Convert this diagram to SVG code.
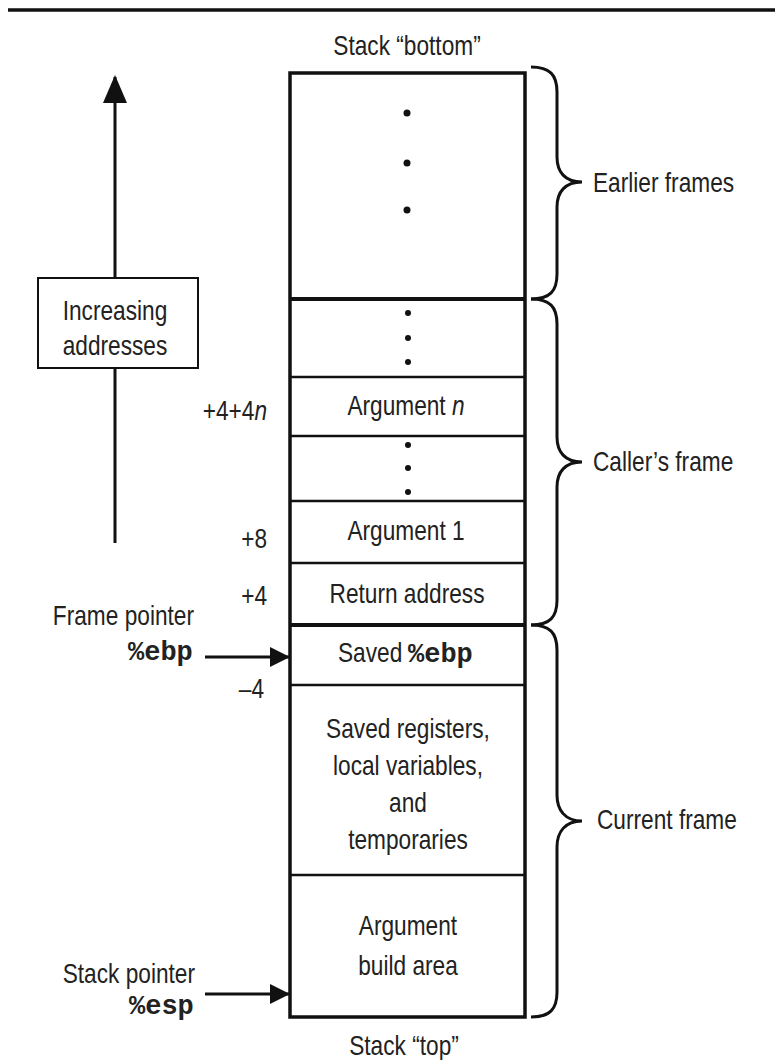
<svg xmlns="http://www.w3.org/2000/svg" width="775" height="1060" viewBox="0 0 775 1060">
<style>
  text { font-family: "Liberation Sans", Arial, sans-serif; font-size: 27px; fill: #222; transform-box: fill-box; }
  .c { text-anchor: middle; transform-origin: center; transform: scaleX(0.84); }
  .e { text-anchor: end; transform-origin: right; transform: scaleX(0.84); }
  .s { text-anchor: start; transform-origin: left; transform: scaleX(0.84); }
  text.m { font-family: "Liberation Mono", "Courier New", monospace; font-weight: bold; font-size: 27px; transform: none; }
  .frame { fill: #fff; stroke: #111; stroke-width: 3.5; }
  .div { stroke: #111; stroke-width: 2.5; }
  .thick { stroke: #111; stroke-width: 4; }
  .brace { fill: none; stroke: #111; stroke-width: 3; }
  .conn { stroke: #111; stroke-width: 3; fill: none; }
  .dot { fill: #111; }
</style>
<defs>
  <marker id="ah" viewBox="0 0 20 20" refX="20" refY="10" markerWidth="20" markerHeight="20" markerUnits="userSpaceOnUse" orient="auto">
    <polygon points="0,0 20,10 0,20" fill="#111"/>
  </marker>
  <marker id="ahUp" viewBox="0 0 28 24" refX="26" refY="12" markerWidth="28" markerHeight="24" markerUnits="userSpaceOnUse" orient="auto">
    <polygon points="0,0 28,12 0,24" fill="#111"/>
  </marker>
</defs>
<rect width="775" height="1060" fill="#fff"/>
<line x1="8" y1="10" x2="775" y2="10" stroke="#111" stroke-width="3.5"/>

<g id="connectors">
  <line class="conn" x1="115" y1="543" x2="115" y2="77" marker-end="url(#ahUp)"/>
  <line class="conn" x1="205" y1="657" x2="290" y2="657" marker-end="url(#ah)"/>
  <line class="conn" x1="205" y1="994" x2="290" y2="994" marker-end="url(#ah)"/>
</g>

<g id="increasing-addresses">
  <rect x="38" y="278" width="160" height="90" fill="#fff" stroke="#111" stroke-width="2"/>
  <text class="c" x="115" y="320">Increasing</text>
  <text class="c" x="115" y="355">addresses</text>
</g>

<g id="stack">
  <rect class="frame" x="290" y="73" width="235" height="944"/>
  <text class="c" x="407" y="55">Stack “bottom”</text>
  <text class="c" x="404" y="1055">Stack “top”</text>
</g>

<g id="row-earlier">
  <circle class="dot" cx="407" cy="113" r="3.5"/>
  <circle class="dot" cx="407" cy="163" r="3.5"/>
  <circle class="dot" cx="407" cy="210" r="3.5"/>
</g>
<g id="row-dots1">
  <line class="thick" x1="290" y1="299" x2="525" y2="299"/>
  <circle class="dot" cx="408" cy="313" r="3"/>
  <circle class="dot" cx="408" cy="338" r="3"/>
  <circle class="dot" cx="408" cy="362" r="3"/>
</g>
<g id="row-argn">
  <line class="div" x1="290" y1="377" x2="525" y2="377"/>
  <text class="c" x="406" y="415">Argument <tspan font-style="italic">n</tspan></text>
  <text class="e" x="267" y="420">+4+4<tspan font-style="italic">n</tspan></text>
</g>
<g id="row-dots2">
  <line class="div" x1="290" y1="436" x2="525" y2="436"/>
  <circle class="dot" cx="408" cy="445" r="3"/>
  <circle class="dot" cx="408" cy="468" r="3"/>
  <circle class="dot" cx="408" cy="492" r="3"/>
</g>
<g id="row-arg1">
  <line class="div" x1="290" y1="501" x2="525" y2="501"/>
  <text class="c" x="406" y="540">Argument 1</text>
  <text class="e" x="267" y="548">+8</text>
</g>
<g id="row-ret">
  <line class="div" x1="290" y1="563" x2="525" y2="563"/>
  <text class="c" x="407" y="603">Return address</text>
  <text class="e" x="267" y="605">+4</text>
</g>
<g id="row-savedebp">
  <line class="thick" x1="290" y1="625" x2="525" y2="625"/>
  <text class="s" x="338" y="662">Saved</text>
  <text class="m" x="408" y="662">%ebp</text>
</g>
<g id="row-locals">
  <line class="div" x1="290" y1="685" x2="525" y2="685"/>
  <text class="c" x="408" y="738">Saved registers,</text>
  <text class="c" x="408" y="775">local variables,</text>
  <text class="c" x="408" y="812">and</text>
  <text class="c" x="408" y="849">temporaries</text>
  <text class="e" x="264" y="698">–4</text>
</g>
<g id="row-argbuild">
  <line class="div" x1="290" y1="875" x2="525" y2="875"/>
  <text class="c" x="408" y="935">Argument</text>
  <text class="c" x="408" y="975">build area</text>
</g>

<g id="frame-pointer">
  <text class="e" x="194" y="625">Frame pointer</text>
  <text class="m" x="128" y="660">%ebp</text>
</g>
<g id="stack-pointer">
  <text class="e" x="195" y="983">Stack pointer</text>
  <text class="m" x="129" y="1014">%esp</text>
</g>

<g id="earlier-frames">
  <path class="brace" d="M531,67 C550,67 557,75 557,92 L557,157 C557,172 565,182 582,182 C565,182 557,192 557,207 L557,274 C557,291 550,299 531,299"/>
  <text class="s" x="593" y="192">Earlier frames</text>
</g>
<g id="callers-frame">
  <path class="brace" d="M531,299 C550,299 557,307 557,324 L557,437 C557,452 565,462 582,462 C565,462 557,472 557,487 L557,600 C557,617 550,625 531,625"/>
  <text class="s" x="593" y="471">Caller’s frame</text>
</g>
<g id="current-frame">
  <path class="brace" d="M531,625 C550,625 557,633 557,650 L557,795 C557,810 565,821 582,821 C565,821 557,832 557,847 L557,992 C557,1009 550,1017 531,1017"/>
  <text class="s" x="597" y="829">Current frame</text>
</g>
</svg>
